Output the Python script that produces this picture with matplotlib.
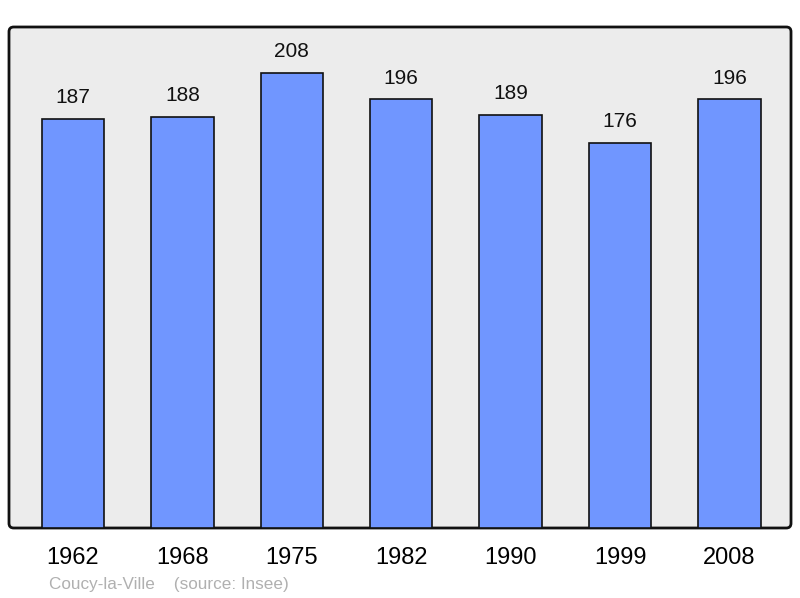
import matplotlib
matplotlib.use("Agg")
import matplotlib.pyplot as plt
from matplotlib.patches import FancyBboxPatch

# Population de Coucy-la-Ville (source : Insee)
years = ["1962", "1968", "1975", "1982", "1990", "1999", "2008"]
population = [187, 188, 208, 196, 189, 176, 196]

plt.rcParams["font.family"] = ["Liberation Sans", "DejaVu Sans"]

fig = plt.figure(figsize=(8, 5.98), dpi=100)
ax = fig.add_axes([9 / 800, 70 / 598, 782 / 800, 501 / 598])
ax.set_facecolor("none")
for s in ax.spines.values():
    s.set_visible(False)

# fond gris arrondi
bg = FancyBboxPatch((0, 0), 1, 1, boxstyle="round,pad=0,rounding_size=0.006",
                    mutation_aspect=1.56, transform=ax.transAxes,
                    facecolor="#ececec", edgecolor="#111111", linewidth=2,
                    zorder=0, clip_on=False)
ax.add_patch(bg)

x = range(len(years))
ax.bar(x, population, width=0.57, color="#7096ff", edgecolor="#111111",
       linewidth=1.2, zorder=2)
for i, v in zip(x, population):
    ax.annotate(str(v), (i, v), xytext=(0, 21), textcoords="offset pixels",
                ha="center", va="center", fontsize=15, color="#111111")

ax.set_xlim(-0.585, 6.562)
ax.set_ylim(0, 229)
ax.set_yticks([])
ax.set_xticks(list(x))
ax.set_xticklabels(years, fontsize=17)
ax.tick_params(axis="x", length=0, pad=14)

fig.text(49 / 800, 1 - 584 / 598, "Coucy-la-Ville    (source: Insee)",
         fontsize=12.3, color="#b0b0b0", va="center", ha="left")

fig.savefig("out.png", dpi=100)
